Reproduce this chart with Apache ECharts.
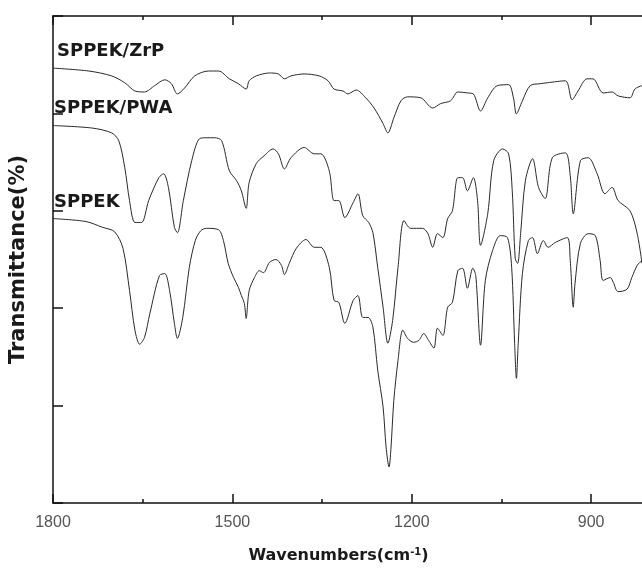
<!DOCTYPE html>
<html>
<head>
<meta charset="utf-8">
<script src="https://cdn.jsdelivr.net/npm/echarts@6/dist/echarts.min.js"></script>
<style>
  html, body { margin: 0; padding: 0; background: #fff; }
  #chart { width: 642px; height: 573px; }
</style>
</head>
<body>
<div id="chart"></div>
<script>
// FTIR spectra, [wavenumber, transmittance]
const zrp = [
  [1800, 89.3], [1740, 88.7], [1702, 87.7], [1680, 86.3], [1663, 84.6], [1647, 84.4],
  [1630, 85.7], [1613, 86.9], [1602, 86.1], [1592, 84.0], [1580, 85.2], [1563, 87.7],
  [1540, 88.7], [1523, 88.7], [1505, 87.1], [1490, 86.1], [1477, 85.0], [1472, 86.7],
  [1460, 87.7], [1438, 88.3], [1423, 88.1], [1413, 87.1], [1402, 87.7], [1380, 88.1],
  [1355, 87.7], [1340, 86.7], [1330, 85.0], [1315, 84.6], [1307, 84.0], [1293, 84.8],
  [1277, 83.2], [1263, 81.1], [1248, 77.9], [1240, 76.0], [1230, 79.1], [1218, 82.6],
  [1207, 83.4], [1185, 83.2], [1165, 81.1], [1152, 82.0], [1135, 82.6], [1123, 84.4],
  [1107, 84.2], [1097, 84.0], [1085, 80.5], [1073, 83.2], [1057, 85.7], [1038, 85.9],
  [1030, 83.2], [1025, 79.9], [1015, 82.6], [1002, 85.7], [985, 86.1], [973, 86.3],
  [943, 86.7], [932, 82.8], [922, 84.6], [907, 87.1], [897, 87.1], [880, 84.2],
  [865, 84.4], [855, 83.6], [835, 83.2], [827, 85.0], [815, 85.7]
];

const pwa = [
  [1800, 77.5], [1735, 77.0], [1702, 76.0], [1690, 74.4], [1680, 68.9], [1672, 62.1],
  [1663, 57.6], [1652, 57.6], [1640, 62.1], [1623, 66.8], [1615, 67.6], [1607, 64.8],
  [1597, 56.6], [1592, 55.5], [1582, 62.1], [1568, 70.3], [1555, 74.8], [1543, 75.0],
  [1530, 75.0], [1518, 74.4], [1505, 68.2], [1493, 66.2], [1485, 64.1], [1477, 60.5],
  [1472, 65.8], [1460, 69.7], [1447, 71.3], [1432, 72.7], [1423, 71.7], [1413, 68.6],
  [1402, 70.9], [1380, 73.0], [1363, 71.7], [1352, 71.7], [1338, 68.2], [1330, 62.1],
  [1322, 62.1], [1312, 58.6], [1298, 61.7], [1290, 63.5], [1282, 59.0], [1272, 57.6],
  [1265, 55.5], [1257, 48.4], [1248, 40.2], [1240, 32.8], [1232, 37.5], [1223, 48.4],
  [1213, 58.0], [1202, 56.4], [1182, 56.4], [1173, 55.3], [1165, 52.5], [1157, 55.3],
  [1148, 54.5], [1140, 58.4], [1132, 60.0], [1123, 66.8], [1115, 66.8], [1107, 64.1],
  [1097, 66.8], [1090, 62.1], [1085, 52.9], [1073, 59.4], [1063, 70.3], [1048, 72.7],
  [1038, 71.7], [1032, 64.1], [1027, 50.2], [1023, 49.2], [1018, 55.3], [1010, 66.2],
  [998, 70.7], [988, 64.8], [977, 62.5], [965, 70.9], [943, 71.9], [935, 67.2],
  [930, 59.4], [918, 70.3], [905, 70.9], [890, 67.6], [877, 63.5], [865, 64.8],
  [855, 62.1], [835, 60.0], [823, 55.3], [815, 49.2]
];

const sppek = [
  [1800, 58.4], [1745, 57.8], [1717, 56.6], [1697, 55.7], [1683, 52.3], [1672, 43.6],
  [1663, 35.5], [1655, 32.6], [1647, 34.0], [1638, 38.9], [1622, 46.7], [1613, 47.1],
  [1605, 43.6], [1597, 36.9], [1592, 33.8], [1583, 38.1], [1572, 48.4], [1562, 53.9],
  [1553, 55.9], [1543, 56.4], [1523, 56.1], [1515, 53.9], [1507, 49.2], [1498, 46.3],
  [1490, 44.3], [1485, 42.6], [1480, 41.0], [1477, 37.9], [1472, 43.6], [1463, 46.3],
  [1455, 47.7], [1448, 47.3], [1438, 49.4], [1427, 50.0], [1418, 48.8], [1413, 46.9],
  [1405, 49.2], [1393, 52.3], [1377, 54.1], [1363, 52.5], [1352, 52.5], [1338, 48.4],
  [1330, 41.6], [1322, 41.2], [1312, 36.9], [1298, 41.6], [1290, 42.6], [1282, 38.1],
  [1273, 38.1], [1265, 36.1], [1257, 27.3], [1248, 19.7], [1243, 11.5], [1238, 7.4],
  [1235, 10.9], [1230, 21.1], [1223, 29.3], [1215, 35.5], [1207, 33.8], [1197, 33.0],
  [1188, 33.4], [1180, 34.8], [1172, 33.4], [1163, 31.8], [1157, 35.9], [1148, 34.4],
  [1140, 40.2], [1132, 41.2], [1123, 47.7], [1115, 48.2], [1107, 44.1], [1098, 48.2],
  [1093, 46.7], [1085, 32.4], [1077, 45.7], [1065, 51.8], [1052, 54.9], [1040, 54.5],
  [1033, 48.4], [1028, 32.8], [1025, 25.6], [1022, 32.8], [1015, 47.1], [1005, 53.9],
  [998, 54.5], [990, 51.2], [980, 53.9], [972, 52.5], [960, 53.5], [940, 54.5],
  [935, 49.8], [930, 40.2], [927, 45.1], [918, 53.3], [905, 55.3], [893, 54.9],
  [885, 49.8], [880, 45.7], [868, 46.3], [863, 45.3], [855, 43.4], [840, 43.9],
  [832, 46.3], [823, 48.8], [815, 49.8]
];

const majorTicks = [1800, 1500, 1200, 900];
const minorTicks = [1650, 1350, 1050];
const curveNames = ['SPPEK/ZrP', 'SPPEK/PWA', 'SPPEK'];

const chart = echarts.init(document.getElementById('chart'));

const axisColor = '#111';
const baseX = {
  type: 'value',
  inverse: true,
  min: 815,
  max: 1800,
  splitLine: { show: false }
};

function lineSeries(name, data) {
  return {
    name: name,
    type: 'line',
    data: data,
    showSymbol: false,
    smooth: 0.3,
    lineStyle: { color: '#2a2a2a', width: 1 },
    animation: false
  };
}

chart.setOption({
  backgroundColor: '#fff',
  grid: { left: 51, top: 16, right: 0, bottom: 70 },
  xAxis: [
    Object.assign({}, baseX, {
      position: 'bottom',
      axisLine: { lineStyle: { color: axisColor, width: 1.5 } },
      axisTick: { inside: true, length: 9, customValues: majorTicks, lineStyle: { color: axisColor, width: 1.5 } },
      axisLabel: {
        customValues: majorTicks, margin: 12,
        formatter: (v) => String(v),
        fontFamily: 'Liberation Sans', fontSize: 16, color: '#555'
      },
      name: 'Wavenumbers(cm{sup|-1})',
      nameLocation: 'middle',
      nameGap: 44,
      nameTextStyle: {
        fontFamily: 'DejaVu Sans', fontWeight: 'bold', fontSize: 16, color: '#1a1a1a',
        padding: [0, 18, 0, 0],
        rich: { sup: { fontFamily: 'DejaVu Sans', fontWeight: 'bold', fontSize: 10, verticalAlign: 'top', padding: [0, 0, 8, 0] } }
      }
    }),
    Object.assign({}, baseX, {
      position: 'bottom',
      axisLine: { show: false },
      axisTick: { inside: true, length: 4, customValues: minorTicks, lineStyle: { color: axisColor, width: 1.5 } },
      axisLabel: { show: false }
    }),
    Object.assign({}, baseX, {
      position: 'top',
      axisLine: { lineStyle: { color: axisColor, width: 1.5 } },
      axisTick: { inside: true, length: 9, customValues: majorTicks, lineStyle: { color: axisColor, width: 1.5 } },
      axisLabel: { show: false }
    }),
    Object.assign({}, baseX, {
      position: 'top',
      axisLine: { show: false },
      axisTick: { inside: true, length: 4, customValues: minorTicks, lineStyle: { color: axisColor, width: 1.5 } },
      axisLabel: { show: false }
    })
  ],
  yAxis: {
    type: 'value',
    min: 0,
    max: 100,
    interval: 20,
    axisLine: { show: true, lineStyle: { color: axisColor, width: 1.5 } },
    axisTick: { show: true, inside: true, length: 10, lineStyle: { color: axisColor, width: 1.5 } },
    axisLabel: { show: false },
    splitLine: { show: false },
    name: 'Transmittance(%)',
    nameLocation: 'middle',
    nameGap: 24,
    nameTextStyle: { fontFamily: 'DejaVu Sans', fontWeight: 'bold', fontSize: 21, color: '#1a1a1a' }
  },
  series: [
    lineSeries(curveNames[0], zrp),
    lineSeries(curveNames[1], pwa),
    lineSeries(curveNames[2], sppek)
  ],
  graphic: [
    { type: 'text', left: 57, top: 42, style: { text: curveNames[0], font: 'bold 18px "DejaVu Sans"', fill: '#1a1a1a' } },
    { type: 'text', left: 54, top: 99, style: { text: curveNames[1], font: 'bold 18px "DejaVu Sans"', fill: '#1a1a1a' } },
    { type: 'text', left: 54, top: 193, style: { text: curveNames[2], font: 'bold 18px "DejaVu Sans"', fill: '#1a1a1a' } }
  ]
});
</script>
</body>
</html>
